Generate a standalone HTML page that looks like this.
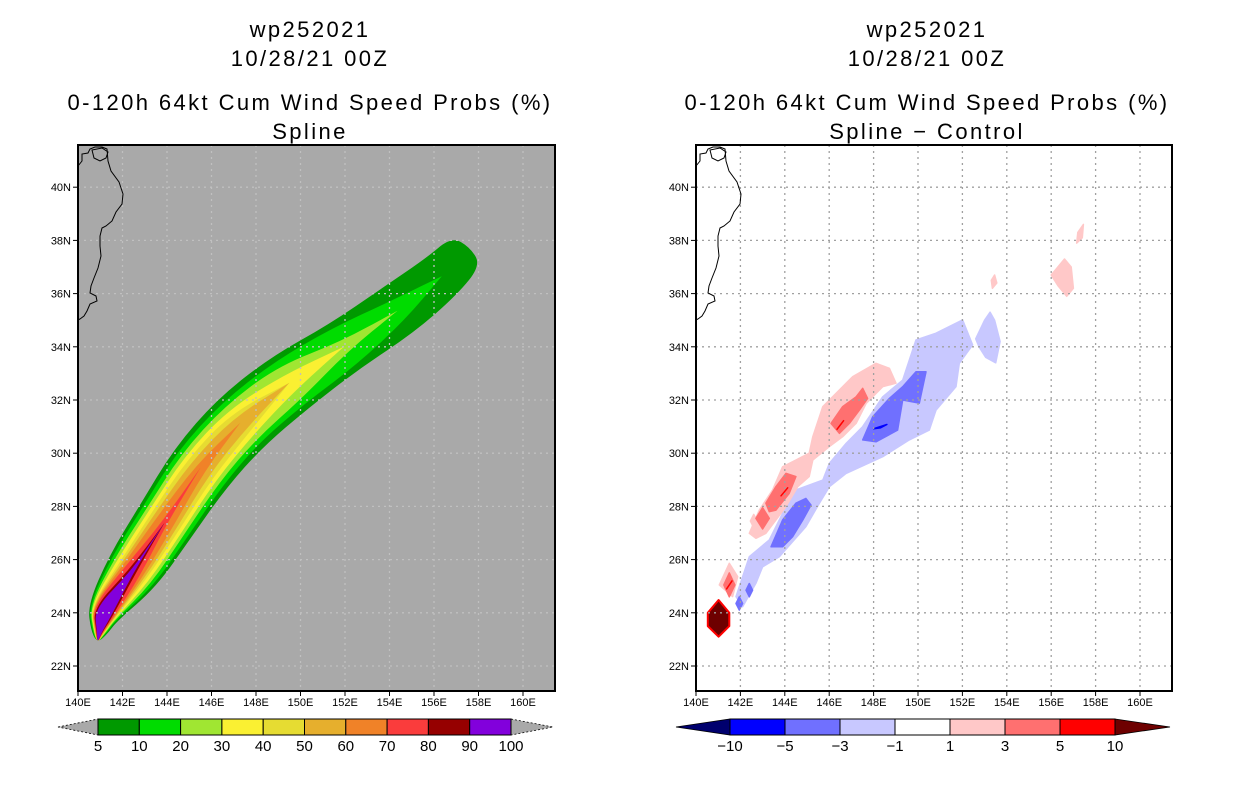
<!DOCTYPE html>
<html><head><meta charset="utf-8">
<style>
html,body{margin:0;padding:0;background:#fff;}
svg{display:block;font-family:"Liberation Sans",sans-serif;}
.t{font-size:22px;text-anchor:middle;fill:#000;letter-spacing:2.4px}
.tk{font-size:11px;fill:#000}
.cb{font-size:15px;fill:#000;text-anchor:middle}
</style></head><body>
<svg id="svg" width="1236" height="800" viewBox="0 0 1236 800">
<text class="t" x="310" y="37">wp252021</text>
<text class="t" x="310" y="66">10/28/21 00Z</text>
<text class="t" x="310" y="110">0-120h 64kt Cum Wind Speed Probs (%)</text>
<text class="t" x="310" y="139">Spline</text>
<text class="t" x="927" y="37">wp252021</text>
<text class="t" x="927" y="66">10/28/21 00Z</text>
<text class="t" x="927" y="110">0-120h 64kt Cum Wind Speed Probs (%)</text>
<text class="t" x="927" y="139">Spline − Control</text>
<g id="left"></g>
<g id="right"></g>
<g id="cbars"></g>
</svg>
<script>
// ---- data ----
const lonTicks=[140,142,144,146,148,150,152,154,156,158,160];
const latTicks=[22,24,26,28,30,32,34,36,38,40];
const trackLon=[140.95,141.10,142.45,143.90,145.50,147.30,149.50,151.95,154.35,156.35,157.45];
const trackLat=[23.25,24.00,25.55,27.40,29.45,31.15,32.65,34.00,35.35,36.65,37.60];
const probLevels=[5,10,20,30,40,50,60,70,80,90];
const probColors=["#009900","#00dc00","#a0e632","#faf032","#e6dc32","#e6af2d","#f08228","#fa3c3c","#960000","#8200dc"];
// half-width of each probability contour along the track (degrees)
const probWidth=[
 [0.34,0.70,1.18,1.26,1.36,1.38,1.32,1.12,1.14,1.00,0.85],
 [0.29,0.64,1.06,1.12,1.18,1.14,1.08,0.92,0.50,0,0],
 [0.24,0.60,0.93,0.95,0.99,0.95,0.84,0.25,0,0,0],
 [0.21,0.57,0.80,0.82,0.82,0.74,0.40,0,0,0,0],
 [0.19,0.55,0.66,0.68,0.65,0.55,0,0,0,0,0],
 [0.17,0.53,0.57,0.55,0.46,0.34,0,0,0,0,0],
 [0.15,0.51,0.48,0.39,0.22,0,0,0,0,0,0],
 [0.13,0.48,0.37,0.10,0,0,0,0,0,0,0],
 [0.11,0.44,0.15,0,0,0,0,0,0,0,0],
 [0.09,0.38,0.05,0,0,0,0,0,0,0,0]];
const diffLevels=[-10,-5,-3,-1,1,3,5,10];
const diffColors=["#00006e","#0000ff","#7070ff","#c8c8ff","#ffffff","#ffc8c8","#ff7070","#ff0000","#6e0000"];
const blobLevel=[3,3,5,5,5,5,5,5,2,2,2,2,6,6,6,6,8,7,7,7,1];
const blobLon=[
 [141.80,142.40,143.30,143.90,144.50,145.71,146.01,146.76,147.51,148.41,149.31,149.61,149.91,150.81,152.01,152.46,151.86,151.71,150.81,150.51,149.61,148.41,146.76,146.01,145.56,144.95,143.75,143.00,142.70,142.10],
 [152.6,153.0,153.25,153.45,153.7,153.5,153.05,152.75],
 [142.40,142.85,143.45,143.90,144.50,145.10,145.26,145.71,146.31,147.06,148.11,148.71,149.01,148.41,147.66,147.21,146.61,146.01,145.26,145.10,144.58,144.05,143.60,143.15,142.70],
 [141.50,141.88,141.65,141.05],
 [156.2,156.6,156.9,157.0,156.7,156.3,156.0],
 [157.2,157.45,157.4,157.15],
 [153.3,153.45,153.55,153.35],
 [142.6,142.75,142.6,142.45],
 [147.51,147.96,148.71,149.31,149.91,150.36,150.06,149.31,149.08,148.11],
 [143.38,143.90,144.50,144.95,145.18,144.81,144.35,143.90],
 [142.25,142.4,142.55,142.4],
 [141.8,141.95,142.1,141.95],
 [146.08,146.61,147.21,147.51,147.73,147.36,146.91,146.46],
 [143.15,143.60,144.05,144.50,144.20,143.60,143.30],
 [142.7,143.0,143.3,143.0],
 [141.25,141.5,141.75,141.5],
 [140.53,141.02,141.50,141.50,141.02,140.53],
 [146.35,146.5,146.65,146.5],
 [143.83,143.98,144.13,143.98],
 [141.38,141.5,141.62,141.5],
 [148.0,148.3,148.6,148.3]];
const blobLat=[
 [24.61,26.11,26.74,27.74,28.62,28.99,29.62,30.37,31.00,32.12,32.75,33.50,34.26,34.51,35.01,34.07,33.38,32.50,31.62,30.87,30.50,29.87,29.24,28.74,28.12,27.24,26.11,25.73,25.11,24.23],
 [34.3,35.0,35.3,35.0,34.2,33.4,33.6,34.0],
 [26.99,27.86,28.62,29.49,29.74,30.00,30.62,31.75,32.25,32.88,33.38,33.19,32.63,32.50,31.87,31.12,30.62,30.25,29.74,29.12,28.74,27.99,27.49,26.99,26.80],
 [25.86,25.36,24.61,25.05],
 [36.9,37.3,37.0,36.2,35.9,36.3,36.7],
 [38.3,38.6,38.1,37.9],
 [36.5,36.7,36.4,36.2],
 [27.2,27.5,27.7,27.45],
 [30.50,31.37,32.06,32.50,33.06,33.06,31.88,32.0,30.87,30.43],
 [26.48,27.49,28.12,28.30,28.05,27.49,26.86,26.48],
 [24.85,25.1,24.85,24.6],
 [24.35,24.6,24.35,24.1],
 [31.12,31.75,32.12,32.44,32.06,31.62,31.12,30.75],
 [28.12,28.74,29.24,29.12,28.49,27.86,27.80],
 [27.55,27.95,27.55,27.15],
 [25.05,25.5,25.05,24.6],
 [24.00,24.48,24.00,23.50,23.10,23.50],
 [30.9,31.06,31.22,31.06],
 [28.4,28.55,28.7,28.55],
 [24.9,25.05,25.2,25.05],
 [30.92,31.0,31.08,30.95]];
const probCbLabels=["5","10","20","30","40","50","60","70","80","90","100"];
const diffCbLabels=["−10","−5","−3","−1","1","3","5","10"];
// ---- layout ----
const NS="http://www.w3.org/2000/svg";
function mk(tag,attrs,parent){const e=document.createElementNS(NS,tag);for(const k in attrs)e.setAttribute(k,attrs[k]);parent.appendChild(e);return e;}
function smoothPath(pts){
  const n=pts.length;const mid=(a,b)=>[(a[0]+b[0])/2,(a[1]+b[1])/2];
  let m=mid(pts[n-1],pts[0]);let d=`M${m[0].toFixed(1)},${m[1].toFixed(1)}`;
  for(let i=0;i<n;i++){const p=pts[i],q=mid(pts[i],pts[(i+1)%n]);d+=` Q${p[0].toFixed(1)},${p[1].toFixed(1)} ${q[0].toFixed(1)},${q[1].toFixed(1)}`;}
  return d+"Z";
}
const panels=[{g:document.getElementById('left'),x0:78,x1:555,lon0:78,pxlon:22.25,bg:"#a9a9a9",grid:"#c0c0c0",name:"left"},
              {g:document.getElementById('right'),x0:696,x1:1172,lon0:696,pxlon:22.2,bg:"#ffffff",grid:"#a0a0a0",name:"right"}];
const Y0=145,Y1=691,PXLAT=26.6;
const ys=lat=>666-(lat-22)*PXLAT;
const coast="M0,20 L4,15 L4,8 L10,7 L12,3 L17,1 L24,1 L29,3 L30,15 L33,25 L41,36 L45,48 L44,58 L38,66 L34,75 L28,80 L24,82 L22,90 L22,100 L23,110 L20,122 L16,132 L13,140 L12,147 L18,150 L19,155 L12,158 L9,165 L6,170 L2,173 L0,174 M14,4 L16,12 L22,15 L28,12 L30,6 L24,2 Z";
panels.forEach(p=>{
  const xs=lon=>p.lon0+(lon-140)*p.pxlon;
  p.xs=xs;
  const g=p.g;
  const clipId="clip-"+p.name;
  const cp=mk('clipPath',{id:clipId},g);mk('rect',{x:p.x0,y:Y0,width:p.x1-p.x0,height:Y1-Y0},cp);
  const bg=mk('rect',{x:p.x0,y:Y0,width:p.x1-p.x0,height:Y1-Y0,fill:p.bg},g);
  
  
  const content=mk('g',{'clip-path':`url(#${clipId})`},g);
  
  
  p.content=content;
  const gg=mk('g',{stroke:p.grid,'stroke-width':1.3,'stroke-dasharray':'2,4'},g);
  
  
  lonTicks.forEach(l=>{if(l>140)mk('line',{x1:xs(l),x2:xs(l),y1:Y0,y2:Y1},gg);});
  latTicks.forEach(l=>{mk('line',{x1:p.x0,x2:p.x1,y1:ys(l),y2:ys(l)},gg);});
  const c=mk('path',{d:coast,transform:`translate(${p.x0},146)`,fill:'none',stroke:'#000','stroke-width':1},g);
  
  
  const fr=mk('rect',{x:p.x0,y:Y0,width:p.x1-p.x0,height:Y1-Y0,fill:'none',stroke:'#000','stroke-width':2},g);
  
  
  lonTicks.forEach(l=>{
    mk('line',{x1:xs(l),x2:xs(l),y1:Y1,y2:Y1+5,stroke:'#000'},g);
    const t=mk('text',{x:xs(l),y:Y1+15,class:'tk','text-anchor':'middle'},g);t.textContent=l+"E";
    
    
  });
  latTicks.forEach(l=>{
    mk('line',{x1:p.x0-5,x2:p.x0,y1:ys(l),y2:ys(l),stroke:'#000'},g);
    const t=mk('text',{x:p.x0-7,y:ys(l)+4,class:'tk','text-anchor':'end'},g);t.textContent=l+"N";
    
    
  });
});
// left swath
(function(){
  const p=panels[0];
  const pts=trackLon.map((l,i)=>[p.xs(l),ys(trackLat[i])]);
  const n=pts.length;
  const normals=pts.map((q,i)=>{const a=pts[Math.max(0,i-1)],b=pts[Math.min(n-1,i+1)];let dx=b[0]-a[0],dy=b[1]-a[1];const L=Math.hypot(dx,dy);return [-dy/L,dx/L];});
  probWidth.forEach((w,k)=>{
    const left=[],right=[];
    let last=n-1;for(let i=0;i<n;i++){if(w[i]<=0){last=i;break;}}
    for(let i=0;i<=last;i++){const r=w[i]*24;left.push([pts[i][0]+normals[i][0]*r,pts[i][1]+normals[i][1]*r]);right.push([pts[i][0]-normals[i][0]*r,pts[i][1]-normals[i][1]*r]);}
    if(w[last]>0){const t=[pts[last][0]+(pts[last][0]-pts[last-1][0])*0.15,pts[last][1]+(pts[last][1]-pts[last-1][1])*0.15];left.push(t);}
    const first=[pts[0][0]-(pts[1][0]-pts[0][0])*0.5,pts[0][1]-(pts[1][1]-pts[0][1])*0.5];
    const all=[first].concat(left,right.reverse());
    const path=mk('path',{d:smoothPath(all),fill:probColors[k]},p.content);
    
    
  });
})();
// right blobs
(function(){
  const p=panels[1];
  blobLon.forEach((lons,i)=>{
    const pts=lons.map((l,j)=>p.xs(l).toFixed(1)+","+ys(blobLat[i][j]).toFixed(1)).join(" ");
    const ci=blobLevel[i];
    const poly=mk('polygon',{points:pts,fill:diffColors[ci],stroke:ci===8?'#ff0000':diffColors[ci],'stroke-width':ci===8?2:1.5,'stroke-linejoin':'round'},p.content);
    
    
  });
})();
// colorbars
(function(){
  const g=document.getElementById('cbars');
  const cy=719,ch=16;
  const lx0=98,lw=41.3,nb=probColors.length;
  const t1=mk('polygon',{points:`58,${cy+8} ${lx0},${cy} ${lx0},${cy+ch}`,fill:'#a9a9a9',stroke:'#000','stroke-width':0.8,'stroke-dasharray':'2,2'},g);
  
  
  const t2=mk('polygon',{points:`${lx0+nb*lw},${cy} 553,${cy+8} ${lx0+nb*lw},${cy+ch}`,fill:'#a9a9a9',stroke:'#000','stroke-width':0.8,'stroke-dasharray':'2,2'},g);
  
  
  probColors.forEach((c,i)=>{
    const r=mk('rect',{x:lx0+i*lw,y:cy,width:lw,height:ch,fill:c,stroke:'#000','stroke-width':1},g);
    
    
  });
  probCbLabels.forEach((s,i)=>{
    const t=mk('text',{x:lx0+i*lw,y:751,class:'cb'},g);t.textContent=s;
    
    
  });
  const rx0=730,rw=55;
  const inner=diffColors.slice(1,8);
  const t3=mk('polygon',{points:`676,${cy+8} ${rx0},${cy} ${rx0},${cy+ch}`,fill:diffColors[0],stroke:'#000','stroke-width':0.8},g);
  
  
  const t4=mk('polygon',{points:`${rx0+7*rw},${cy} 1170,${cy+8} ${rx0+7*rw},${cy+ch}`,fill:diffColors[8],stroke:'#000','stroke-width':0.8},g);
  
  
  inner.forEach((c,i)=>{
    const r=mk('rect',{x:rx0+i*rw,y:cy,width:rw,height:ch,fill:c,stroke:'#000','stroke-width':1},g);
    
    
  });
  diffCbLabels.forEach((s,i)=>{
    const t=mk('text',{x:rx0+i*rw,y:751,class:'cb'},g);t.textContent=s;
    
    
  });
})();
</script>
</body></html>
